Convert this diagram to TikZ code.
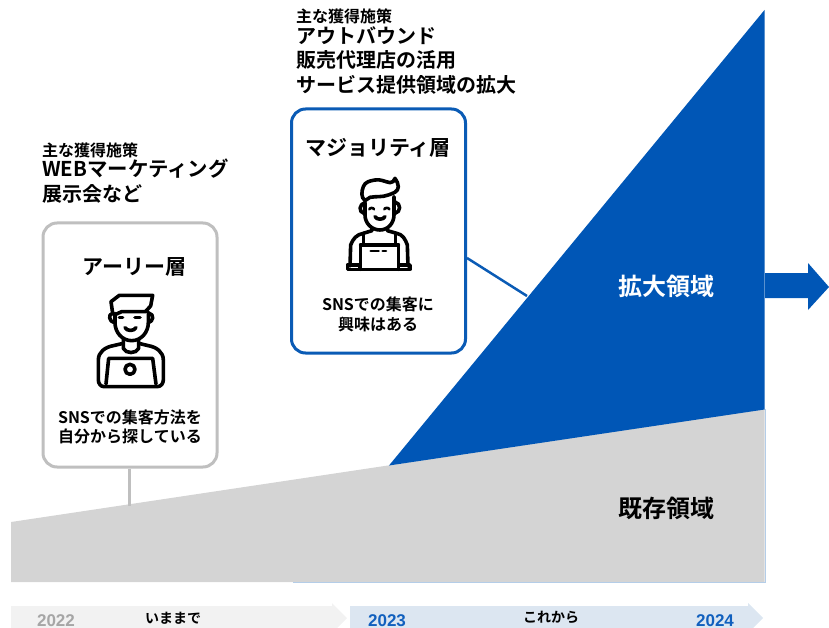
\documentclass[tikz,border=0pt]{standalone}
\usepackage{fontspec}
\setmainfont{Noto Sans CJK JP}[BoldFont={Noto Sans CJK JP Bold}]
\newfontfamily\latinb{Liberation Sans}[BoldFont={Liberation Sans Bold}]
\definecolor{mainblue}{HTML}{0056B6}
\definecolor{boxblue}{HTML}{0A5BB5}
\definecolor{areagray}{HTML}{D4D4D4}
\definecolor{boxgray}{HTML}{BFBFBF}
\definecolor{bargray}{HTML}{F2F2F2}
\definecolor{barblue}{HTML}{DCE6F1}
\definecolor{yeargray}{HTML}{A6A6A6}
\definecolor{yearblue}{HTML}{1160BE}
\definecolor{edgeblue}{HTML}{B4CDE8}
\tikzset{
  cardbox/.style={draw,line width=3pt,fill=white,rounded corners=14pt,inner sep=0pt},
  lbl/.style={inner sep=0pt,font=\bfseries,text=black,anchor=center},
  note/.style={inner sep=0pt,font=\bfseries,text=black,anchor=west},
  icon/.style={line width=3.6pt,black,line cap=round,line join=round},
  thinicon/.style={line width=2.6pt,black,line cap=round,line join=round},
}
\newcommand{\fs}[1]{\fontsize{#1}{#1}\selectfont}
\begin{document}
\begin{tikzpicture}[x=1pt,y=-1pt]
\useasboundingbox (0,0) rectangle (829,628);
% areas
\fill[areagray] (11,522) -- (764.5,409) -- (764.5,582) -- (11,582) -- cycle;
\draw[edgeblue,line width=0.8pt] (293,582.6) -- (765,582.6) -- (765,409);
\fill[mainblue] (389,465.5) -- (764.5,10) -- (764.5,409.5) -- cycle;
\fill[mainblue] (765,273) -- (808,273) -- (808,263) -- (829,287) -- (808,310) -- (808,298) -- (765,298) -- cycle;
\node[lbl,text=white] (grow) at (666,286) {\fs{24}拡大領域};
\node[lbl] (base) at (666,508) {\fs{24}既存領域};
% cards
\coordinate (greyfoot) at (129,506);
\coordinate (bluefoot) at (527,296);
\node[cardbox,draw=boxgray,minimum width=174pt,minimum height=244pt] (early) at (130,345) {};
\node[cardbox,draw=boxblue,minimum width=174pt,minimum height=244pt] (major) at (378.5,231) {};
\draw[boxgray,line width=3pt] (early.south -| greyfoot) -- (greyfoot);
\draw[boxblue,line width=2.5pt] (major.east |- 0,258) -- (bluefoot);
\node[lbl] at (134.5,267) {\fs{21}アーリー層};
\node[lbl] at (378,148) {\fs{21}マジョリティ層};
\node[lbl] at (130,417) {\fs{16}SNSでの集客方法を};
\node[lbl] at (130,436) {\fs{16}自分から探している};
\node[lbl] at (378,304) {\fs{16}SNSでの集客に};
\node[lbl] at (378,324) {\fs{16}興味はある};
% notes
\node[note] at (42,150) {\fs{16}主な獲得施策};
\node[note] at (42,169) {\fs{20.4}WEBマーケティング};
\node[note] at (42,194) {\fs{20}展示会など};
\node[note] at (296,16) {\fs{16}主な獲得施策};
\node[note] at (296,36) {\fs{20}アウトバウンド};
\node[note] at (296,60) {\fs{20}販売代理店の活用};
\node[note] at (296,85) {\fs{20}サービス提供領域の拡大};
% person with laptop
\begin{scope}[shift={(80,280)},x=0.3333pt,y=-0.3333pt]
\draw[icon,fill=white] (98,100) -- (93,65) -- (118,46) -- (218,46) -- (212,78) -- (196,95) -- (125,95) -- (105,104);
\draw[icon] (98,100) to[out=190,in=170,looseness=1.4] (103,128);
\draw[icon] (208,100) to[out=-10,in=10,looseness=1.4] (205,128);
\draw[icon] (105,100) -- (105,128) to[out=-90,in=180] (155,182) to[out=0,in=-90] (205,128) -- (205,96);
\draw[icon] (118,112) -- (128,112) (165,112) -- (180,112);
\draw[icon] (135,143) to[out=-60,in=-120] (168,143);
\draw[icon] (130,178) -- (130,205) to[out=-70,in=-110] (176,205) -- (176,178);
\draw[icon] (130,190) -- (100,197) to[out=190,in=90] (55,240) -- (55,300) to[out=-90,in=180] (72,320) -- (232,320) to[out=0,in=-90] (250,300) -- (250,240) to[out=90,in=-10] (205,197) -- (176,190);
\draw[icon] (78,312) -- (86,235) -- (218,235) -- (228,312);
\draw[icon] (150,268) circle (15);
\end{scope}
% person with apron
\begin{scope}[shift={(330,170)},x=0.3333pt,y=-0.3333pt]
\draw[icon] (105,92) to[out=140,in=-110] (100,50) to[out=70,in=190] (135,30) to[out=10,in=170] (180,38) to[out=-10,in=-110] (195,25) to[out=-60,in=90] (205,50) to[out=-90,in=20] (175,75) to[out=200,in=10] (120,82) -- (105,92);
\draw[icon] (105,98) -- (105,135) to[out=-90,in=180] (150,180) to[out=0,in=-90] (192,135) -- (192,80);
\draw[icon] (105,98) to[out=190,in=170,looseness=1.4] (102,130);
\draw[icon] (195,96) to[out=-10,in=10,looseness=1.4] (195,130);
\draw[thinicon] (118,118) to[out=80,in=100] (132,118) (163,118) to[out=80,in=100] (178,118);
\draw[icon] (135,140) to[out=-60,in=-120] (165,140);
\draw[icon] (126,175) -- (126,182) -- (100,190) to[out=190,in=70] (62,225) -- (60,288);
\draw[icon] (172,175) -- (172,182) -- (200,190) to[out=-10,in=110] (232,225) -- (234,288);
\draw[icon] (52,285) -- (52,298) -- (90,298) -- (90,285) -- cycle;
\draw[icon] (205,285) -- (205,298) -- (240,298) -- (240,285) -- cycle;
\draw[icon] (92,298) -- (205,298);
\draw[icon] (100,190) -- (100,225) -- (92,225) -- (92,298);
\draw[icon] (197,190) -- (197,225) -- (205,225) -- (205,298);
\draw[icon] (92,225) -- (205,225);
\draw[thinicon] (122,243) -- (146,243) (158,243) -- (168,243);
\end{scope}
% timeline
\fill[bargray] (11,606) -- (332,606) -- (332,603) -- (347,618) -- (335,630) -- (11,630) -- cycle;
\fill[barblue] (350,606) -- (748,606) -- (748,603) -- (763,618) -- (751,630) -- (350,630) -- cycle;
\node[lbl,text=yeargray] at (56,620.5) {\fs{17}{\latinb\bfseries 2022}};
\node[lbl,text=yearblue] at (387,620.5) {\fs{17}{\latinb\bfseries 2023}};
\node[lbl,text=yearblue] at (715,620.5) {\fs{17}{\latinb\bfseries 2024}};
\node[lbl] at (173,618) {\fs{14}いままで};
\node[lbl] at (551,617) {\fs{14}これから};
\end{tikzpicture}
\end{document}
